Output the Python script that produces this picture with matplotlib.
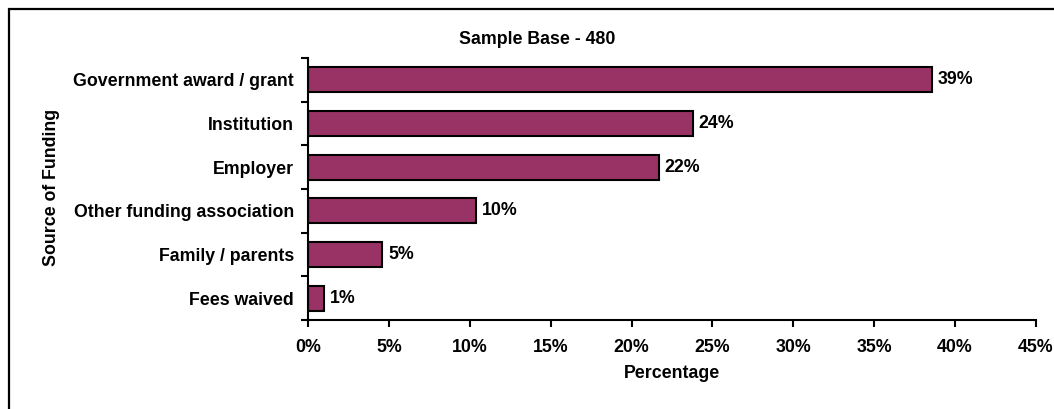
import matplotlib.pyplot as plt
from matplotlib.patches import Rectangle
from matplotlib.ticker import FixedLocator, PercentFormatter

# data (top to bottom)
categories = ["Government award / grant", "Institution", "Employer",
              "Other funding association", "Family / parents", "Fees waived"]
values = [38.6, 23.8, 21.7, 10.4, 4.6, 1.0]
x_ticks = [0, 5, 10, 15, 20, 25, 30, 35, 40, 45]

plt.rcParams['font.family'] = ['Liberation Sans', 'DejaVu Sans']
plt.rcParams['font.weight'] = 'bold'
FS = 12.8

W, H = 1054, 409
fig = plt.figure(figsize=(W / 100, H / 100), dpi=100)
ax = fig.add_axes([308 / W, 1 - 320 / H, (1036 - 308) / W, (320 - 58) / H])

ypos = list(range(len(categories)))
ax.barh(ypos, values, height=0.57, color="#993366", edgecolor="black", linewidth=1.5)

for y, v in zip(ypos, values):
    ax.text(v + 0.35, y, f"{v:.0f}%", va="center", ha="left", fontsize=FS, fontweight="bold")

ax.set_ylim(len(categories) - 0.5, -0.5)
ax.set_xlim(0, 45)
ax.set_yticks(ypos)
ax.set_yticklabels(categories, fontsize=FS, fontweight="bold")
ax.yaxis.set_minor_locator(FixedLocator([i - 0.5 for i in range(len(categories) + 1)]))
ax.tick_params(axis="y", which="major", length=0, pad=10)
ax.tick_params(axis="y", which="minor", length=5, width=1.5, direction="out")

ax.set_xticks(x_ticks)
ax.xaxis.set_major_formatter(PercentFormatter(decimals=0))
ax.tick_params(axis="x", length=5, width=1.5, direction="out", pad=9, labelsize=FS)
for lbl in ax.get_xticklabels():
    lbl.set_fontweight("bold")

for s in ["top", "right"]:
    ax.spines[s].set_visible(False)
for s in ["left", "bottom"]:
    ax.spines[s].set_linewidth(1.5)

ax.set_xlabel("Percentage", fontsize=FS, fontweight="bold", labelpad=6)
fig.text(52 / W, 1 - 187 / H, "Source of Funding", rotation=90, ha="center", va="center",
         fontsize=FS, fontweight="bold")
fig.text(537 / W, 1 - 40 / H, "Sample Base - 480", ha="center", va="center",
         fontsize=FS, fontweight="bold")

# outer frame, cut off at right and bottom
fig.patches.append(Rectangle((9 / W, -0.1), 1.2, 1.1 - 9 / H, transform=fig.transFigure,
                             fill=False, edgecolor="black", linewidth=1.6))

fig.savefig("out.png", dpi=100)
